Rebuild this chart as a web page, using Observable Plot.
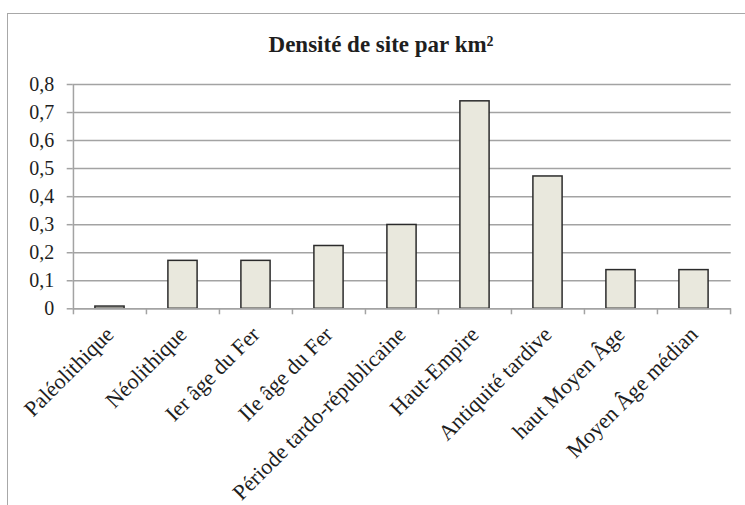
<!DOCTYPE html>
<html><head><meta charset="utf-8">
<script src="https://cdn.jsdelivr.net/npm/d3@7"></script>
<script src="https://cdn.jsdelivr.net/npm/@observablehq/plot@0.6"></script>
<style>
body{margin:0;background:#fff}
#wrap{position:relative;width:745px;height:505px;overflow:hidden;background:#fff}
#frame{position:absolute;left:7px;top:13px;width:800px;height:600px;border-left:1.5px solid #a8a8a8;border-top:1.5px solid #a8a8a8;box-sizing:border-box}
#title{position:absolute;left:0;width:762px;top:33px;line-height:23px;text-align:center;font-weight:bold;font-size:23px;font-family:'Liberation Serif','Times New Roman',Times,'DejaVu Serif',serif;color:#1e1e1e}
#chart{position:absolute;left:0;top:0}
#chart svg text{font-family:'Liberation Serif','Times New Roman',Times,'DejaVu Serif',serif}
</style></head>
<body><div id="wrap"><div id="frame"></div><div id="title">Densité de site par km²</div><div id="chart"></div></div>
<script>
const categories = ["Paléolithique","Néolithique","Ier âge du Fer","IIe âge du Fer","Période tardo-républicaine","Haut-Empire","Antiquité tardive","haut Moyen Âge","Moyen Âge médian"];
const values = [0.008,0.171,0.171,0.224,0.299,0.740,0.472,0.138,0.138];
const yTicks = [0,0.1,0.2,0.3,0.4,0.5,0.6,0.7,0.8];

const data = categories.map((c,i)=>({period:c, density:values[i]}));
const W=745,H=505,ML=72.7,MR=14.3,MT=84,MB=196.7;
const bw=(W-ML-MR)/categories.length;
const barW=29.3;
const grid="#a3a3a3";
const serif="'Liberation Serif','Times New Roman',Times,'DejaVu Serif',serif";
const fmt=d=>d===0?"0":d3.format(".1f")(d).replace(".",",");

const plot=Plot.plot({
  width:W,height:H,marginLeft:ML,marginRight:MR,marginTop:MT,marginBottom:MB,
  style:{fontFamily:serif,background:"transparent",color:"#1e1e1e"},
  x:{domain:categories,padding:0,label:null},
  y:{domain:[0,0.8],label:null},
  marks:[
    Plot.gridY(yTicks,{stroke:grid,strokeOpacity:1,strokeWidth:1.5}),
    Plot.axisY({ticks:yTicks,tickSize:6,tickPadding:13,tickFormat:fmt,stroke:grid,strokeWidth:1.5,fontSize:20,fill:"#1e1e1e",label:null}),
    Plot.barY(data,{x:"period",y:"density",fill:"#e9e8dd",stroke:"#2b2b2b",strokeWidth:1.5,insetLeft:(bw-barW)/2,insetRight:(bw-barW)/2}),
    Plot.ruleY([0],{stroke:grid,strokeWidth:1.5}),
    Plot.ruleX([categories[0]],{dx:-bw/2,y1:0,y2:0.8,stroke:grid,strokeWidth:1.5}),
    Plot.tickX(categories,{x:d=>d,dx:-bw/2,insetTop:H-MT-MB,insetBottom:-6,stroke:grid,strokeWidth:1.5}),
    Plot.tickX([categories[categories.length-1]],{x:d=>d,dx:bw/2,insetTop:H-MT-MB,insetBottom:-6,stroke:grid,strokeWidth:1.5}),
    Plot.axisX({tickSize:0,tickRotate:-45,tickPadding:22,dx:0,fontSize:22,fill:"#1e1e1e",label:null})
  ]
});
document.getElementById("chart").appendChild(plot);
</script>
</body></html>
